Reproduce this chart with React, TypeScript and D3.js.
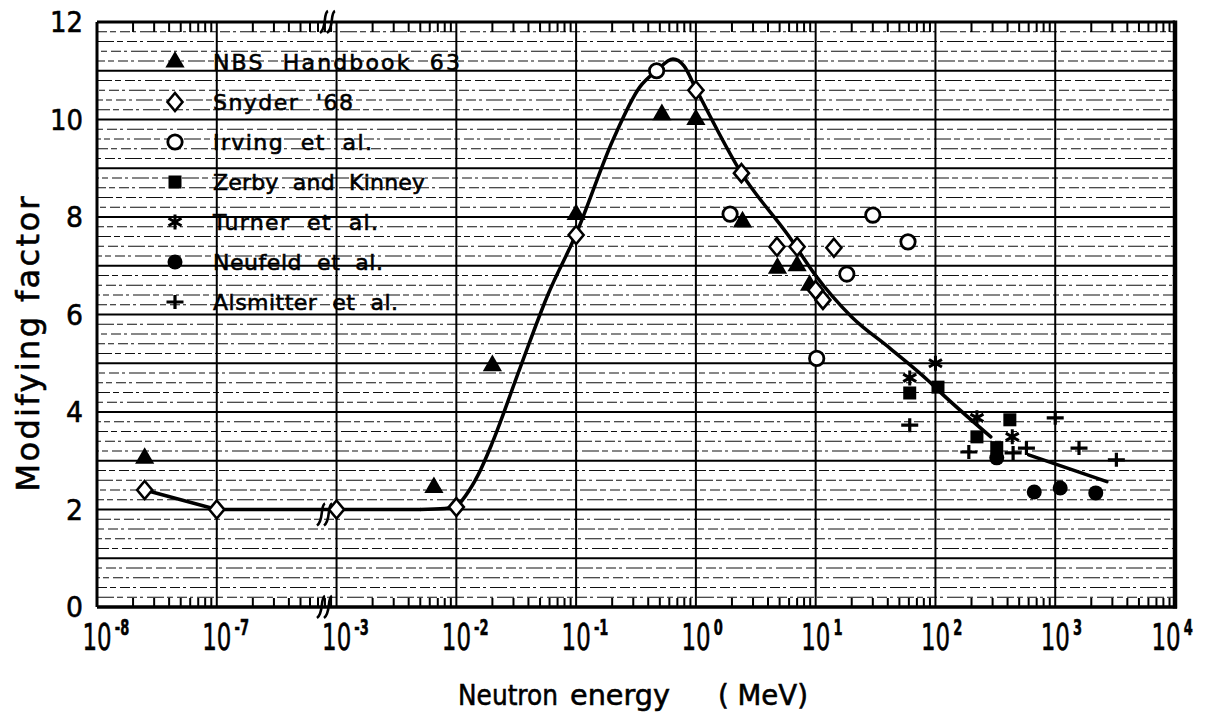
import React from 'react';
import * as d3 from 'd3';

// ---------- data ----------
const xTickExponents = [-8, -7, -3, -2, -1, 0, 1, 2, 3, 4];
const yTickValues = [0, 2, 4, 6, 8, 10, 12];
const yTitle = 'Modifying factor';
const xTitleWords = ['Neutron', 'energy', '( MeV)'];

const legendLabels = [
  'NBS  Handbook  63',
  "Snyder  '68",
  'Irving  et  al.',
  'Zerby  and  Kinney',
  'Turner  et  al.',
  'Neufeld  et  al.',
  'Alsmitter  et  al.',
];
const legendKinds = ['triangle', 'diamond', 'circle', 'square', 'star', 'dot', 'plus'];

// [energy MeV, modifying factor]
const nbsHandbook63: [number, number][] = [
  [2.5e-8, 3.05], [6.5e-3, 2.45], [0.02, 4.95], [0.1, 8.05], [0.52, 10.1],
  [1.0, 10.0], [2.45, 7.9], [4.8, 6.95], [7.0, 7.0], [8.9, 6.6],
];
const snyder68: [number, number][] = [
  [2.5e-8, 2.4], [1e-7, 2.0], [1e-3, 2.0], [1e-2, 2.05], [0.1, 7.63],
  [1.0, 10.6], [2.4, 8.9], [4.75, 7.39], [7.0, 7.39], [10, 6.5], [11.5, 6.3], [14.2, 7.37],
];
const irving: [number, number][] = [
  [0.47, 11.0], [1.93, 8.06], [10.2, 5.1], [18.2, 6.83], [30, 8.04], [59, 7.49],
];
const zerbyKinney: [number, number][] = [
  [61, 4.39], [105, 4.51], [222, 3.49], [325, 3.27], [418, 3.84],
];
const turner: [number, number][] = [
  [61, 4.7], [100, 5.0], [222, 3.88], [438, 3.49],
];
const neufeld: [number, number][] = [
  [325, 3.06], [668, 2.36], [1100, 2.44], [2180, 2.34],
];
const alsmitter: [number, number][] = [
  [61, 3.73], [190, 3.18], [445, 3.16], [575, 3.26], [1000, 3.88], [1580, 3.26], [3240, 3.02],
];

// fitted curve: straight low-energy part, smooth rise/fall, and short high-energy tail
const curveLow: [number, number][] = [
  [2.5e-8, 2.4], [1e-7, 2.0], [1e-3, 2.0], [5e-3, 2.0],
];
const curveMain: [number, number][] = [
  [5e-3, 2.0], [8e-3, 2.02], [1e-2, 2.07], [1.2e-2, 2.29], [1.52e-2, 2.71], [1.99e-2, 3.36],
  [3.4e-2, 4.9], [5.8e-2, 6.4], [0.1, 7.65], [0.203, 9.58], [0.341, 10.67], [0.47, 11.0],
  [0.644, 11.24], [0.795, 11.1], [1.0, 10.63], [2.4, 8.9], [6, 7.6], [10, 6.8], [20, 5.95],
  [42, 5.3], [89, 4.62], [100, 4.5], [290, 3.49],
];
const curveTail: [number, number][] = [[600, 3.12], [2700, 2.57]];

const series: { kind: string; data: [number, number][] }[] = [
  { kind: 'triangle', data: nbsHandbook63 },
  { kind: 'diamond', data: snyder68 },
  { kind: 'circle', data: irving },
  { kind: 'square', data: zerbyKinney },
  { kind: 'star', data: turner },
  { kind: 'dot', data: neufeld },
  { kind: 'plus', data: alsmitter },
];

const FONT = '"DejaVu Sans", sans-serif';

function Marker({ kind, cx, cy }: { kind: string; cx: number; cy: number }) {
  const t = `translate(${cx},${cy})`;
  switch (kind) {
    case 'triangle':
      return <path transform={t} d={d3.symbol(d3.symbolTriangle, 160)() as string} fill="#000" />;
    case 'diamond':
      return <path transform={t} d="M0,-9L7.5,0L0,9L-7.5,0Z" fill="#fff" stroke="#000" strokeWidth={2.6} />;
    case 'circle':
      return <circle cx={cx} cy={cy} r={7.2} fill="#fff" stroke="#000" strokeWidth={2.8} />;
    case 'square':
      return <rect x={cx - 6.5} y={cy - 6.5} width={13} height={13} fill="#000" />;
    case 'dot':
      return <circle cx={cx} cy={cy} r={7.5} fill="#000" />;
    case 'plus':
      return <path transform={t} d="M-8.5,0H8.5M0,-7V7" stroke="#000" strokeWidth={3.2} fill="none" />;
    case 'star': {
      const r = 7.5;
      const d = [90, 30, 150]
        .map((a) => {
          const rad = (a * Math.PI) / 180;
          const dx = r * Math.cos(rad), dy = r * Math.sin(rad);
          return `M${-dx},${-dy}L${dx},${dy}`;
        })
        .join('');
      return <path transform={t} d={d} stroke="#000" strokeWidth={3} fill="none" />;
    }
    default:
      return null;
  }
}

function BreakMark({ cx, cy }: { cx: number; cy: number }) {
  const stroke = (dx: number) =>
    `M${cx + dx + 4},${cy - 11} C${cx + dx - 1},${cy - 9} ${cx + dx + 3},${cy + 6} ${cx + dx - 4},${cy + 11}`;
  return (
    <g fill="none" stroke="#000" strokeWidth={2.6}>
      <path d={stroke(-3)} />
      <path d={stroke(4)} />
    </g>
  );
}

export default function App() {
  const W = 1205, H = 719;
  const L = 97, R = 1175, T = 22, B = 607;
  const D = (R - L) / 9;

  const xA = d3.scaleLog().domain([1e-8, 1e-7]).range([L, L + D]);
  const xM = d3.scaleLog().domain([1e-7, 1e-3]).range([L + D, L + 2 * D]);
  const xB = d3.scaleLog().domain([1e-3, 1e4]).range([L + 2 * D, R]);
  const x = (e: number) => (e <= 1e-7 ? xA(e) : e < 1e-3 ? xM(e) : xB(e));
  const y = d3.scaleLinear().domain([0, 12]).range([B, T]);

  const smooth = d3
    .line<[number, number]>()
    .x((d) => x(d[0]))
    .y((d) => y(d[1]))
    .curve(d3.curveMonotoneX);
  const straight = d3
    .line<[number, number]>()
    .x((d) => x(d[0]))
    .y((d) => y(d[1]));

  const minorTickX: number[] = [];
  for (let i = 0; i < 9; i++) {
    const s = d3.scaleLog().domain([1, 10]).range([L + i * D, L + (i + 1) * D]);
    for (let m = 2; m <= 9; m++) minorTickX.push(s(m));
  }
  const minorGridY = d3.range(1, 60).filter((k) => k % 5 !== 0).map((k) => k / 5);
  const majorGridY = d3.range(1, 12);
  const decadeLines = [1e-7, 1e-3, 1e-2, 1e-1, 1, 10, 100, 1000];

  const heavy = { stroke: '#000', strokeWidth: 0.6 };

  return (
    <svg
      width={W}
      height={H}
      style={{ position: 'absolute', left: 0, top: 0, background: '#fff' }}
      fontFamily={FONT}
    >
      <rect x={0} y={0} width={W} height={H} fill="#fff" />

      {/* minor dashed horizontal grid */}
      <g stroke="#111" strokeWidth={1.1} strokeDasharray="17 3 6 4 10 3 3 4">
        {minorGridY.map((v, i) => (
          <line key={v} x1={L} x2={R} y1={y(v)} y2={y(v)} strokeDashoffset={(i * 7) % 23} />
        ))}
      </g>
      {/* major grid */}
      <g stroke="#000" strokeWidth={2}>
        {majorGridY.map((v) => (
          <line key={v} x1={L} x2={R} y1={y(v)} y2={y(v)} />
        ))}
        {decadeLines.map((e) => (
          <line key={e} x1={x(e)} x2={x(e)} y1={T} y2={B} />
        ))}
      </g>
      {/* minor log ticks on top & bottom */}
      <g stroke="#000" strokeWidth={2}>
        {minorTickX.map((px, i) => (
          <g key={i}>
            <line x1={px} x2={px} y1={T} y2={T + 10} />
            <line x1={px} x2={px} y1={B} y2={B - 9} />
          </g>
        ))}
      </g>
      {/* frame */}
      <g stroke="#000" fill="none">
        <line x1={L} x2={R} y1={T} y2={T} strokeWidth={3} />
        <line x1={L} x2={R + 2} y1={B} y2={B} strokeWidth={3.5} />
        <line x1={L} x2={L} y1={T} y2={B} strokeWidth={3} />
        <line x1={R} x2={R} y1={T - 1.5} y2={B + 1.5} strokeWidth={4.5} />
      </g>

      {/* fitted curve */}
      <g fill="none" stroke="#000" strokeWidth={3.5} strokeLinejoin="round" strokeLinecap="round">
        <path d={straight(curveLow) as string} />
        <path d={smooth(curveMain) as string} />
        <path d={straight(curveTail) as string} />
      </g>

      {/* axis break marks */}
      <BreakMark cx={327} cy={T} />
      <BreakMark cx={324} cy={y(2) + 5} />
      <BreakMark cx={324} cy={B} />

      {/* data markers */}
      {series.map((s) =>
        s.data.map((d, i) => <Marker key={s.kind + i} kind={s.kind} cx={x(d[0])} cy={y(d[1])} />)
      )}

      {/* legend */}
      {legendLabels.map((lab, i) => (
        <g key={lab}>
          <Marker kind={legendKinds[i]} cx={175} cy={62 + i * 40} />
          <text
            x={213}
            y={70 + i * 40}
            fontSize={22}
            style={{ whiteSpace: 'pre' }}
            textLength={[247, 140, 159, 212, 165, 170, 185][i]}
            lengthAdjust="spacing"
            fill="#000"
            {...heavy}
          >
            {lab}
          </text>
        </g>
      ))}

      {/* y tick labels */}
      {yTickValues.map((v) => (
        <text
          key={v}
          x={83}
          y={y(v)}
          dy="0.36em"
          textAnchor="end"
          fontSize={29}
          textLength={v >= 10 ? 33 : 17}
          lengthAdjust="spacingAndGlyphs"
          fill="#000"
          {...heavy}
        >
          {v}
        </text>
      ))}

      {/* x tick labels: 10 with superscript exponent, narrow lettering */}
      {xTickExponents.map((p) => {
        const cx = x(Math.pow(10, p)) - (p === 4 ? 9 : 0);
        const sup = p < 0 ? `-${-p}` : `${p}`;
        return (
          <text
            key={p}
            transform={`translate(${cx - 14.5},650) scale(0.62,1)`}
            fontSize={37}
            fill="#000"
            {...heavy}
          >
            10
            <tspan fontSize={21} fontWeight="bold" dx={5} dy={-15}>
              {sup}
            </tspan>
          </text>
        );
      })}

      {/* axis titles */}
      <text
        transform={`translate(27,344) rotate(-90)`}
        textAnchor="middle"
        dy="0.36em"
        fontSize={32}
        textLength={295}
        lengthAdjust="spacing"
        fill="#000"
        {...heavy}
      >
        {yTitle}
      </text>
      {xTitleWords.map((w, i) => (
        <text
          key={w}
          x={[458, 570, 718][i]}
          y={705}
          fontSize={29}
          textLength={[100, 100, 90][i]}
          lengthAdjust="spacingAndGlyphs"
          style={{ whiteSpace: 'pre' }}
          fill="#000"
          {...heavy}
        >
          {w}
        </text>
      ))}
    </svg>
  );
}
